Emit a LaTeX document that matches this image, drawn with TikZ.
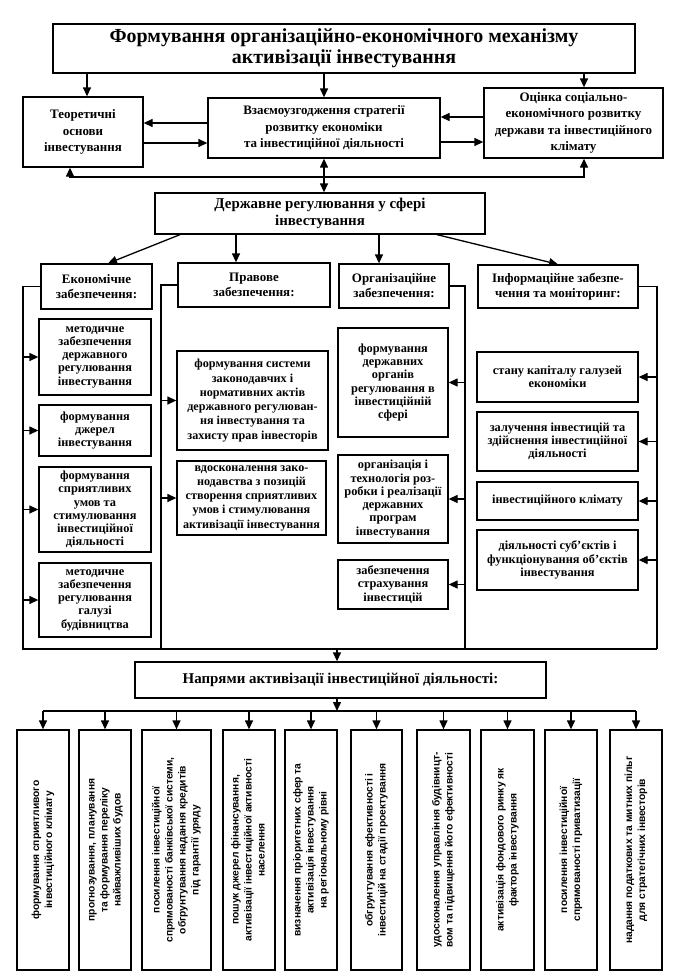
\documentclass[tikz,border=0pt]{standalone}
\usepackage{fontspec}
\usepackage{graphicx}
\setmainfont{Liberation Serif}
\newfontfamily\sansb{Liberation Sans}
\usetikzlibrary{arrows.meta,calc}
\newcommand{\mkbox}[7]{\node[#6, minimum width={(#4-#2)*1bp}, minimum height={(#5-#3)*1bp}] (#1) at ({(#2+#4)/2},{(#3+#5)/2}) {#7};}
\newcommand{\mkvbox}[6]{\node[vbox, minimum width={(#4-#2)*1bp}, minimum height={(#5-#3)*1bp}] (#1) at ({(#2+#4)/2},{(#3+#5)/2}) {\rotatebox{90}{\begin{tabular}{@{}c@{}}#6\end{tabular}}};}
\begin{document}
\begin{tikzpicture}[x=1bp,y=-1bp,
  box/.style={draw, line width=1.3bp, align=center, inner sep=1bp},
  ttl/.style={box, font=\bfseries\fontsize{20}{21}\selectfont},
  top/.style={box, font=\bfseries\fontsize{13}{16.5}\selectfont},
  dz/.style={box, font=\bfseries\fontsize{15}{17}\selectfont},
  hdr/.style={box, font=\bfseries\fontsize{13}{15}\selectfont},
  inn/.style={box, font=\bfseries\fontsize{12.4}{13.3}\selectfont},
  innw/.style={box, font=\bfseries\fontsize{12.2}{14.3}\selectfont},
  vbox/.style={box, inner sep=0pt, font=\sansb\bfseries\fontsize{10.3}{13}\selectfont},
  arr/.style={line width=1.3bp, -{Triangle[length=9bp,width=8bp]}},
  darr/.style={line width=1.3bp, {Triangle[length=9bp,width=8bp]}-{Triangle[length=9bp,width=8bp]}},
  ln/.style={line width=1.3bp}]
\useasboundingbox[fill=white] (0,0) rectangle (677,977);
% top block
\mkbox{ttl}{53}{24}{635}{73}{ttl}{Формування організаційно-економічного механізму\\активізації інвестування}
\mkbox{teor}{23}{97}{143}{167}{top}{Теоретичні\\основи\\інвестування}
\mkbox{vz}{208}{98}{440}{158}{top}{Взаємоузгодження стратегії\\розвитку економіки\\та інвестиційної діяльності}
\mkbox{ots}{484}{88}{663}{158}{top}{Оцінка соціально-\\економічного розвитку\\держави та інвестиційного\\клімату}
\mkbox{derzh}{155}{193}{485}{234}{dz}{Державне регулювання у сфері\\інвестування}
% headers
\mkbox{econ}{41}{264}{152}{309}{hdr}{Економічне\\забезпечення:}
\mkbox{prav}{178}{263}{330}{307}{hdr}{Правове\\забезпечення:}
\mkbox{org}{339}{264}{449}{308}{hdr}{Організаційне\\забезпечення:}
\mkbox{inf}{478}{265}{638}{308}{hdr}{Інформаційне забезпе-\\чення та моніторинг:}
% economic
\mkbox{e1}{39}{319}{151}{395}{inn}{методичне\\забезпечення\\державного\\регулювання\\інвестування}
\mkbox{e2}{39}{405}{151}{456}{inn}{формування\\джерел\\інвестування}
\mkbox{e3}{39}{467}{151}{552}{inn}{формування\\сприятливих\\умов та\\стимулювання\\інвестиційної\\діяльності}
\mkbox{e4}{39}{563}{151}{637}{inn}{методичне\\забезпечення\\регулювання\\галузі\\будівництва}
% legal
\mkbox{p1}{177}{351}{328}{450}{innw}{формування системи\\законодавчих і\\нормативних актів\\державного регулюван-\\ня інвестування та\\захисту прав інвесторів}
\mkbox{p2}{177}{461}{326}{535}{innw}{вдосконалення зако-\\нодавства з позицій\\створення сприятливих\\умов і стимулювання\\активізації інвестування}
% organisational
\mkbox{o1}{338}{328}{448}{437}{inn}{формування\\державних\\органів\\регулювання в\\інвестиційній\\сфері}
\mkbox{o2}{338}{455}{448}{543}{inn}{організація і\\технологія роз-\\робки і реалізації\\державних\\програм\\інвестування}
\mkbox{o3}{338}{560}{448}{609}{inn}{забезпечення\\страхування\\інвестицій}
% information
\mkbox{i1}{477}{352}{638}{402}{inn}{стану капіталу галузей\\економіки}
\mkbox{i2}{477}{412}{638}{471}{inn}{залучення інвестицій та\\здійснення інвестиційної\\діяльності}
\mkbox{i3}{477}{482}{638}{520}{inn}{інвестиційного клімату}
\mkbox{i4}{477}{530}{638}{590}{inn}{діяльності суб'єктів і\\функціонування об'єктів\\інвестування}
% directions
\mkbox{nap}{135}{662}{546}{698}{dz}{Напрями активізації інвестиційної діяльності:}
\mkvbox{b1}{17}{730}{69}{970}{формування сприятливого\\інвестиційного клімату}
\mkvbox{b2}{79}{730}{131}{970}{прогнозування, планування\\та формування переліку\\найважливіших будов}
\mkvbox{b3}{142}{730}{211}{970}{посилення інвестиційної\\спрямованості банківської системи,\\обгрунтування надання кредитів\\під гарантії уряду}
\mkvbox{b4}{223}{730}{275}{970}{пошук джерел фінансування,\\активізації інвестиційної активності\\населення}
\mkvbox{b5}{285}{730}{337}{970}{визначення пріоритетних сфер та\\активізація інвестування\\на регіональному рівні}
\mkvbox{b6}{351}{730}{402}{970}{обгрунтування ефективності і\\інвестицій на стадії проектування}
\mkvbox{b7}{417}{730}{470}{970}{удосконалення управління будівницт-\\вом та підвищення його ефективності}
\mkvbox{b8}{481}{730}{534}{970}{активізація фондового ринку як\\фактора інвестування}
\mkvbox{b9}{545}{730}{597}{970}{посилення інвестиційної\\спрямованості приватизації}
\mkvbox{b10}{610}{730}{662}{970}{надання податкових та митних пільг\\для стратегічних інвесторів}
% helper coordinates
\coordinate (xa) at (87,0);
\coordinate (xb) at (584,0);
\coordinate (xl) at (70,0);
\coordinate (yl1) at (0,123);
\coordinate (yl2) at (0,143);
\coordinate (yr1) at (0,117);
\coordinate (yr2) at (0,142);
\coordinate (ybus) at (0,177);
\coordinate (d1) at (180,0);
\coordinate (d2) at (236,0);
\coordinate (d3) at (379,0);
\coordinate (d4) at (437,0);
\coordinate (ea) at (108,0);
\coordinate (bl) at (23,649);
\coordinate (pl) at (161,649);
\coordinate (ol) at (465,649);
\coordinate (il) at (657,649);
\coordinate (nt) at (337,649);
\coordinate (bb) at (337,711);
% top connectors
\draw[arr] (ttl.south -| xa) -- (teor.north -| xa);
\draw[arr] (ttl.south -| vz.north) -- (vz.north);
\draw[arr] (ttl.south -| xb) -- (ots.north -| xb);
\draw[arr] (vz.west |- yl1) -- (teor.east |- yl1);
\draw[arr] (teor.east |- yl2) -- (vz.west |- yl2);
\draw[arr] (ots.west |- yr1) -- (vz.east |- yr1);
\draw[arr] (vz.east |- yr2) -- (ots.west |- yr2);
\draw[darr] (teor.south -| xl) -- (ybus -| xl) -- (ybus -| xb) -- (ots.south -| xb);
\draw[darr] (vz.south) -- (vz.south |- derzh.north);
% state regulation connectors
\draw[arr] (derzh.south -| d1) -- (econ.north -| ea);
\draw[arr] (derzh.south -| d2) -- (prav.north -| d2);
\draw[arr] (derzh.south -| d3) -- (org.north -| d3);
\draw[arr] (derzh.south -| d4) -- (inf.north);
% brackets
\draw[ln] (econ.west) -| (bl) -- (il);
\draw[ln] (prav.west) -| (pl);
\draw[ln] (org.east) -| (ol);
\draw[ln] (inf.east) -| (il);
\foreach \b in {e1,e2,e3,e4} {\draw[arr] (\b.west -| bl) -- (\b.west);}
\foreach \b in {p1,p2} {\draw[arr] (\b.west -| pl) -- (\b.west);}
\foreach \b in {o1,o2,o3} {\draw[arr] (\b.east -| ol) -- (\b.east);}
\foreach \b in {i1,i2,i3,i4} {\draw[arr] (\b.east -| il) -- (\b.east);}
% directions
\draw[arr] (nt) -- (nap.north -| nt);
\draw[arr] (nap.south -| bb) -- (bb);
\draw[ln] (bb -| b1) -- (bb -| b10);
\foreach \b in {b1,b2,b3,b4,b5,b6,b7,b8,b9,b10} {\draw[arr] (bb -| \b.north) -- (\b.north);}
\end{tikzpicture}
\end{document}
